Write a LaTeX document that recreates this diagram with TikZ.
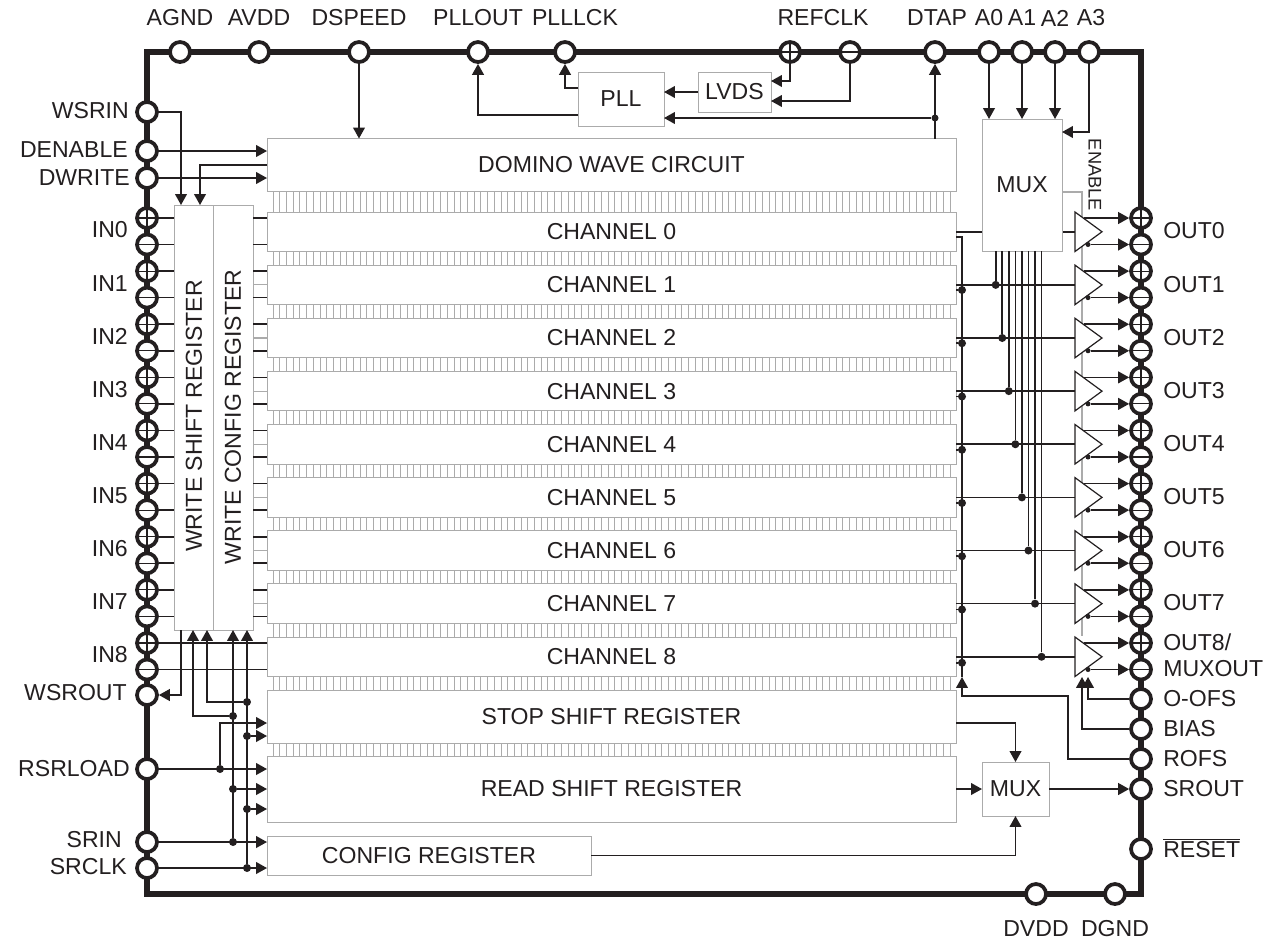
\documentclass[tikz,border=0pt]{standalone}
\usepackage{fontspec}
\setmainfont{Liberation Sans}
\usetikzlibrary{arrows.meta,shapes.geometric}
\definecolor{chipink}{HTML}{231F20}
\definecolor{chipgray}{HTML}{ABABAB}
\newcommand{\px}{0.75pt}
\newcommand{\chipfont}{\fontsize{17.3pt}{20pt}\selectfont}
\tikzset{
  wire/.style={draw=chipink, line width=1.2pt},
  graywire/.style={draw=chipgray, line width=0.8pt},
  block/.style 2 args={draw=chipgray, fill=white, line width=0.7pt, inner sep=0pt, outer sep=0pt,
    minimum width=#1*\px, minimum height=#2*\px},
  pad/.style={circle, draw=chipink, fill=white, line width=2.8pt, inner sep=0pt, minimum size=20*\px},
  padplus/.style={pad, path picture={\draw[chipink, line width=0.9pt, shorten >=1.2pt, shorten <=1.2pt]
    (path picture bounding box.west) -- (path picture bounding box.east);
    \draw[chipink, line width=0.9pt, shorten >=1.2pt, shorten <=1.2pt]
    (path picture bounding box.north) -- (path picture bounding box.south);}},
  padminus/.style={pad, path picture={\draw[chipink, line width=0.9pt, shorten >=1.2pt, shorten <=1.2pt]
    (path picture bounding box.west) -- (path picture bounding box.east);}},
  amp/.style={isosceles triangle, isosceles triangle stretches, shape border rotate=0, draw=chipink, fill=white,
    line width=0.9pt, inner sep=0pt, outer sep=0pt, minimum width=39.5*\px, minimum height=27*\px, anchor=lower side},
  dot/.style={circle, fill=chipink, inner sep=0pt, minimum size=8*\px},
  minidot/.style={circle, fill=chipink, inner sep=0pt, minimum size=5*\px},
  leftlabel/.style={anchor=east, inner sep=0pt},
  rightlabel/.style={anchor=west, inner sep=0pt},
}
\begin{document}
\begin{tikzpicture}[x=\px, y=-\px, >={Stealth[length=8.2pt,width=8.8pt,inset=0pt]},
    every node/.style={font=\chipfont, text=chipink}]
  \useasboundingbox (0,0) rectangle (1273,940);
  % package outline
  \draw[chipink, line width=5pt] (147,52) rectangle (1141,894);

  % sampling cells between the rows
  \foreach \ya/\yb in {192/212, 743/756}
    \draw[graywire, line width=0.6pt] \foreach \i in {0,...,101} { ({273+6.703*\i},\ya) -- ({273+6.703*\i},\yb) };
  \foreach \k in {0,...,8}
    \draw[graywire, line width=0.6pt] \foreach \i in {0,...,101} { ({273+6.703*\i},{251.5+53.125*\k}) -- ({273+6.703*\i},{265.1+53.125*\k}) };

  % main blocks
  \node[block={689}{53}] (domino) at (611.5,165) {DOMINO WAVE CIRCUIT};
  \foreach \k in {0,...,8}
    \node[block={689}{39.5}] (ch\k) at (611.5,{231.75+53.125*\k}) {CHANNEL \k};
  \node[block={689}{53}] (stop) at (611.5,716.5) {STOP SHIFT REGISTER};
  \node[block={689}{66}] (read) at (611.5,789) {READ SHIFT REGISTER};
  \node[block={324}{39}] (config) at (429,855.5) {CONFIG REGISTER};
  \node[block={86}{54}] (pll) at (621,99) {PLL};
  \node[block={73}{40}] (lvds) at (734.5,92) {LVDS};
  \node[block={40}{425}] (wsr) at (194,417.5) {};
  \node[block={39.5}{425}] (wcr) at (233.5,417.5) {};
  \node[rotate=90] (wsrtext) at (194,416) {WRITE SHIFT REGISTER};
  \node[rotate=90] (wcrtext) at (233,417) {WRITE CONFIG REGISTER};
  \node[block={67}{54}] (muxb) at (1015.5,789) {MUX};

  % top pads
  \foreach \name/\x/\lx/\txt in {agnd/180/180/AGND, avdd/259/259/AVDD, dspeed/359/359/DSPEED, pllout/478/478/PLLOUT,
      plllck/565/575/PLLLCK, dtap/935/937/DTAP, azero/989/989/A0, aone/1022/1022/A1, atwo/1055/1055/A2, athree/1089/1091/A3} {
    \node[pad] (\name) at (\x,52) {};
    \node[inner sep=0pt] (\name-l) at (\lx,18) {\txt};
  }
  \node[padplus] (refp) at (790,52) {};
  \node[padminus] (refn) at (850,52) {};
  \node[inner sep=0pt] (ref-l) at (823,18) {REFCLK};

  % bottom pads
  \node[pad] (dvdd) at (1036,894) {};
  \node[pad] (dgnd) at (1115,894) {};
  \node[inner sep=0pt] (dvdd-l) at (1036,929) {DVDD};
  \node[inner sep=0pt] (dgnd-l) at (1115,929) {DGND};

  % left pads
  \foreach \name/\y/\lx/\ly/\txt in {wsrin/112/129/111/WSRIN, denable/151/128/150/DENABLE, dwrite/178/130/178/DWRITE,
      wsrout/695/127/693/WSROUT, rsrload/769/130/769/RSRLOAD, srin/842/122/840/SRIN, srclk/868/127/867/SRCLK} {
    \node[pad] (\name) at (147,\y) {};
    \node[leftlabel] (\name-l) at (\lx,\ly) {\txt};
  }
  \foreach \k in {0,...,8} {
    \node[padplus] (inp\k) at (147,{218+53.125*\k}) {};
    \node[padminus] (inn\k) at (147,{244.5+53.125*\k}) {};
    \node[leftlabel] (in\k-l) at (128,{230+53.125*\k}) {IN\k};
  }

  % right pads
  \foreach \name/\y/\txt in {oofs/699/O-OFS, bias/729/BIAS, rofs/759/ROFS, srout/789/SROUT} {
    \node[pad] (\name) at (1141,\y) {};
    \node[rightlabel] (\name-l) at (1163,\y) {\txt};
  }
  \node[pad] (reset) at (1141,849) {};
  \node[rightlabel, anchor=base west] (reset-l) at (1163,857) {$\overline{\mbox{RESET}}$};
  \foreach \k in {0,...,8} {
    \node[padplus] (outp\k) at (1141,{218+53.125*\k}) {};
    \node[padminus] (outn\k) at (1141,{244.5+53.125*\k}) {};
  }
  \foreach \k in {0,...,7}
    \node[rightlabel] (out\k-l) at (1163,{231+53.125*\k}) {OUT\k};
  \node[rightlabel] (out8-l) at (1163,642) {OUT8/};
  \node[rightlabel] (muxout-l) at (1163,669) {MUXOUT};

  % input rungs
  \foreach \k in {0,...,7} {
    \draw[wire] (inp\k.east) -- (wsr.west|-inp\k);
    \draw[wire] (inn\k.east) -- (wsr.west|-inn\k);
    \draw[wire] (wcr.east|-inp\k) -- (ch\k.west|-inp\k);
    \draw[wire] (wcr.east|-inn\k) -- (ch\k.west|-inn\k);
  }
  \foreach \k in {1,...,7}
    \draw[graywire] (wcr.east|-ch\k) -- (ch\k.west);
  \draw[wire] (inp8.east) -- (ch8.west|-inp8);
  \draw[wire] (inn8.east) -- (ch8.west|-inn8);

  % write side control
  \coordinate (wsrtop) at (181,205);
  \coordinate (wcrtop) at (200,205);
  \coordinate (dominoback) at (267,165);
  \coordinate (wsrbot) at (181,630);
  \draw[wire, ->] (wsrin.east) -| (wsrtop);
  \draw[wire, ->] (denable.east) -- (domino.west|-denable);
  \draw[wire, ->] (dwrite.east) -- (domino.west|-dwrite);
  \draw[wire, ->] (dominoback) -| (wcrtop);
  \draw[wire, ->] (wsrbot) |- (wsrout.east);

  % serial bus on the lower left
  \coordinate (tipa) at (193,630);
  \coordinate (tipb) at (207,630);
  \coordinate (tipc) at (233,630);
  \coordinate (tipd) at (247,630);
  \node[dot] (clka) at (233,716) {};
  \node[dot] (clkb) at (247,702) {};
  \node[dot] (clkc) at (247,736) {};
  \node[dot] (clkd) at (233,789) {};
  \node[dot] (clke) at (247,809) {};
  \node[dot] (clkf) at (233,842) {};
  \node[dot] (clkg) at (247,868) {};
  \node[dot] (load) at (220,769) {};
  \coordinate (loadtop) at (220,723);
  \draw[wire, ->] (clka) -| (tipa);
  \draw[wire, ->] (clkb) -| (tipb);
  \draw[wire, ->] (clkf) -- (tipc);
  \draw[wire, ->] (clkg) -- (tipd);
  \draw[wire, ->] (clkc) -- (stop.west|-clkc);
  \draw[wire, ->] (load) |- (loadtop) -- (stop.west|-loadtop);
  \draw[wire, ->] (rsrload.east) -- (read.west|-rsrload);
  \draw[wire, ->] (clkd) -- (read.west|-clkd);
  \draw[wire, ->] (clke) -- (read.west|-clke);
  \draw[wire, ->] (srin.east) -- (config.west|-srin);
  \draw[wire, ->] (srclk.east) -- (config.west|-srclk);

  % top side wiring
  \coordinate (pllfb) at (664,118);
  \coordinate (plloutb) at (578,115);
  \coordinate (plllckb) at (578,88);
  \coordinate (lvdsa) at (771,81);
  \coordinate (lvdsb) at (771,101);
  \node[minidot, minimum size=7*\px] (tap) at (935,118) {};
  \draw[wire, ->] (dspeed.south) -- (dspeed|-domino.north);
  \draw[wire, ->] (plloutb) -| (pllout.south);
  \draw[wire, ->] (plllckb) -| (plllck.south);
  \draw[wire, ->] (lvds.west) -- (pll.east|-lvds);
  \draw[wire, ->] (refp.south) |- (lvdsa);
  \draw[wire, ->] (refn.south) |- (lvdsb);
  \draw[wire, ->] (dtap|-domino.north) -- (dtap.south);
  \draw[wire, ->] (tap) -- (pllfb);

  % enable line behind the amplifiers
  \coordinate (enstart) at (1062,192);
  \coordinate (enend) at (1082,636);
  \draw[graywire] (enstart) -| (enend);
  \node[rotate=-90, inner sep=0pt, font=\fontsize{13.7pt}{16pt}\selectfont] (enable-l) at (1095,175) {ENABLE};

  % output amplifiers
  \foreach \k in {0,...,8} {
    \node[amp] (amp\k) at (1075,{231.75+53.125*\k}) {};
    \draw[wire] (ch\k.east) -- (amp\k.lower side);
    \coordinate (ampp\k) at (1084,{218+53.125*\k});
    \node[minidot] (ampn\k) at (1088,{244.5+53.125*\k}) {};
    \draw[wire, ->] (ampp\k) -- (outp\k.west);
    \draw[wire, ->] (ampn\k) -- (outn\k.west);
  }

  % analog mux and select lines
  \node[block={80}{132}] (mux) at (1022,185) {MUX};
  \draw[wire, ->] (azero.south) -- (azero|-mux.north);
  \draw[wire, ->] (aone.south) -- (aone|-mux.north);
  \draw[wire, ->] (atwo.south) -- (atwo|-mux.north);
  \coordinate (muxen) at (1062,132);
  \draw[wire, ->] (athree.south) |- (muxen);
  \foreach \k in {1,...,8} {
    \node[dot] (bus\k) at ({995.7+6.55*(\k-1)},{231.75+53.125*\k}) {};
    \draw[wire] (bus\k) -- (bus\k|-mux.south);
  }

  % read offset rail
  \coordinate (railtop) at (962,237);
  \coordinate (railstart) at (956,237);
  \coordinate (railtip) at (962,677);
  \coordinate (rofsa) at (1068,696);
  \draw[wire] (railstart) -- (railtop) -- (railtip);
  \foreach \k in {1,...,8} {
    \node[dot] (rail\k) at (962,{290+53.25*(\k-1)}) {};
    \draw[wire] (rail\k) -- (ch\k.east|-rail\k);
  }
  \draw[wire, ->] (rofs.west) -| (rofsa) -| (railtip);

  % output offsets
  \coordinate (ofstip) at (1088,677);
  \coordinate (biastip) at (1082,677);
  \draw[wire, ->] (oofs.west) -| (ofstip);
  \draw[wire, ->] (bias.west) -| (biastip);

  % serial read out
  \coordinate (stopout) at (956,723);
  \draw[wire, ->] (stopout) -| (muxb.north);
  \draw[wire, ->] (read.east|-muxb) -- (muxb.west);
  \draw[wire, ->] (muxb.east) -- (srout.west);
  \draw[wire, ->] (config.east) -| (muxb.south);
\end{tikzpicture}
\end{document}
